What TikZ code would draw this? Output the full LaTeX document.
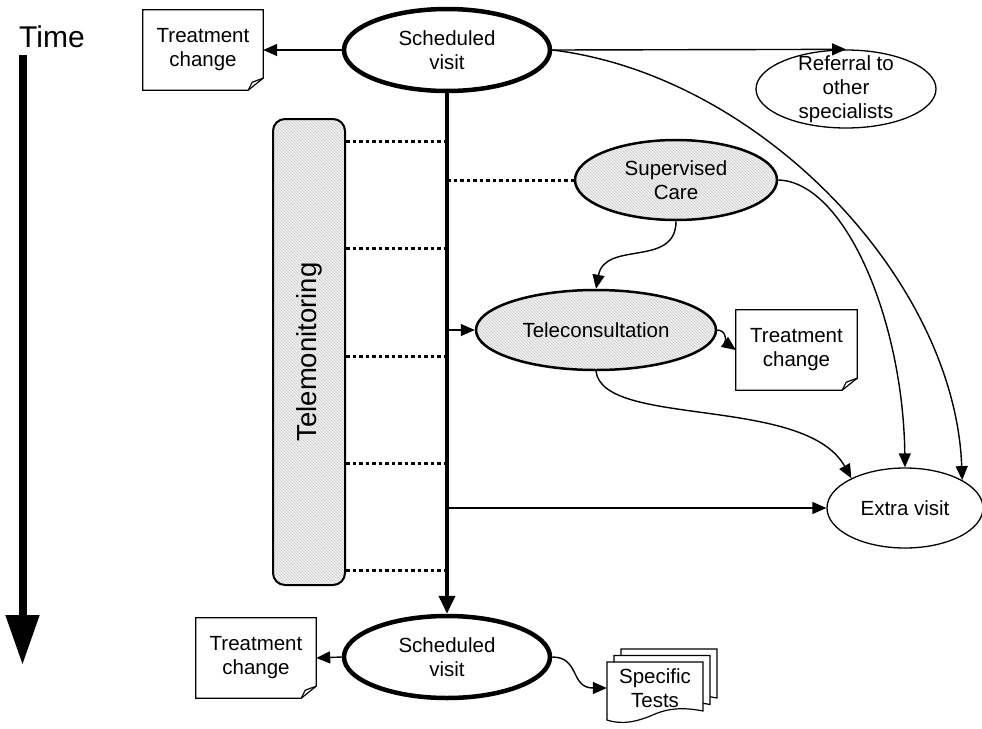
\documentclass[tikz,border=0pt]{standalone}
\usepackage{fontspec}
\setmainfont{Liberation Sans}
\usetikzlibrary{shapes.geometric,arrows.meta,patterns,calc}
\newcommand{\foldbox}[1]{%
  \draw[boxline] (#1.north west) -- (#1.north east) -- ([yshift=12pt]#1.south east)
    -- ([xshift=-15pt]#1.south east) -- (#1.south west) -- cycle;
  \draw[boxline] ([yshift=12pt]#1.south east) -- ([xshift=-11pt,yshift=8pt]#1.south east)
    -- ([xshift=-15pt]#1.south east);}
\newcommand{\testpage}[2]{%
  \draw[boxline,fill=white,shift={(#1,#2)}] (607,720) -- (607,662) -- (703,662) -- (703,711)
    .. controls (688,708) and (672,707) .. (655,714)
    .. controls (637,722) and (622,725) .. (607,720) -- cycle;}
\begin{document}
\begin{tikzpicture}[x=1pt,y=-1pt,
  every node/.style={font=\fontsize{20.5}{24}\selectfont, align=center},
  arr/.style={line width=1.4pt,-{Triangle[length=14pt,width=12pt]}},
  boxline/.style={line width=1.2pt},
  hatch/.style={preaction={fill=gray!10}, pattern={north west lines}, pattern color=gray!42},
  schedvisit/.style={ellipse, draw, line width=4.5pt, fill=white, minimum width=206pt, minimum height=82pt, inner sep=0pt},
  careell/.style={ellipse, draw, line width=2.5pt, hatch, inner sep=0pt},
  plainell/.style={ellipse, draw, line width=1.3pt, fill=white, inner sep=0pt},
  docbox/.style={rectangle, draw=none, inner sep=0pt},
  dotline/.style={line width=3pt, dash pattern=on 3.5pt off 3pt},
]
\useasboundingbox (0,0) rectangle (982,728);

% Time axis
\node[font=\fontsize{30}{34}\selectfont, anchor=base] (time) at (52,47) {Time};
\coordinate (tstart) at (22.5,55);
\coordinate (tend) at (22.5,665);
\draw[line width=8pt, -{Triangle[length=50pt,width=32pt]}] (tstart) -- (tend);

% Telemonitoring box
\node[draw, line width=2pt, rounded corners=12pt, hatch, rotate=90,
      minimum width=466pt, minimum height=72pt, inner sep=0pt,
      font=\fontsize{27.5}{30}\selectfont] (tm) at (309,352) {Telemonitoring};

% Nodes
\node[schedvisit] (sv1) at (447,50) {Scheduled\\visit};
\node[docbox, minimum width=120pt, minimum height=80pt] (tc1) at (203,50) {Treatment\\change};
\node[plainell, minimum width=180pt, minimum height=78pt, inner ysep=-11pt] (ref) at (846,89) {Referral to\\other\\specialists};
\node[careell, minimum width=202pt, minimum height=80pt] (sc) at (676,180) {Supervised\\Care};
\node[careell, minimum width=240pt, minimum height=80pt] (tcs) at (596,330) {Teleconsultation};
\node[docbox, minimum width=121pt, minimum height=80pt] (tc2) at (796.5,350) {Treatment\\change};
\node[plainell, minimum width=156pt, minimum height=80pt] (ev) at (905,508) {Extra visit};
\node[schedvisit] (sv2) at (447,657) {Scheduled\\visit};
\node[docbox, minimum width=120pt, minimum height=80pt] (tc3) at (256,658) {Treatment\\change};

\foldbox{tc1}
\foldbox{tc2}
\foldbox{tc3}

% Specific tests (stacked pages)
\testpage{14}{-13}
\testpage{7}{-6.5}
\testpage{0}{0}
\node[docbox, minimum width=96pt, minimum height=52pt] (tests) at (655,688) {Specific\\Tests};

% Main time line
\draw[line width=4pt, -{Triangle[length=18pt,width=16pt]}] (sv1.south) -- (sv2.north);

% Dotted links
\foreach \yy in {141,248,356,463,570}
  \draw[dotline] (tm.south |- 0,\yy) -- (sv1.south |- 0,\yy);
\draw[dotline] (sv1.south |- sc.west) -- (sc.west);

% Arrows
\draw[arr] (sv1.west) -- (tc1.east);
\draw[arr] (sv1.east) -- (ref.north);
\draw[arr] (sv1.east) .. controls (760,75) and (955,280) .. (ev.26);
\draw[arr] (sc.east) .. controls (845,182) and (903,320) .. (ev.north);
\draw[arr] (sc.south) .. controls (676,268) and (605,240) .. (tcs.north);
\draw[arr] (tcs.east) .. controls (727,330) and (726,343) .. (tc2.west);
\draw[arr] (tcs.south) .. controls (603,428) and (805,395) .. (ev.151);
\draw[arr] (sv1.south |- tcs.west) -- (tcs.west);
\draw[arr] (sv1.south |- ev.west) -- (ev.west);
\draw[arr] (sv2.west) -- (tc3.east);
\draw[arr] (sv2.east) .. controls (580,657) and (570,688) .. (tests.west);
\end{tikzpicture}
\end{document}
